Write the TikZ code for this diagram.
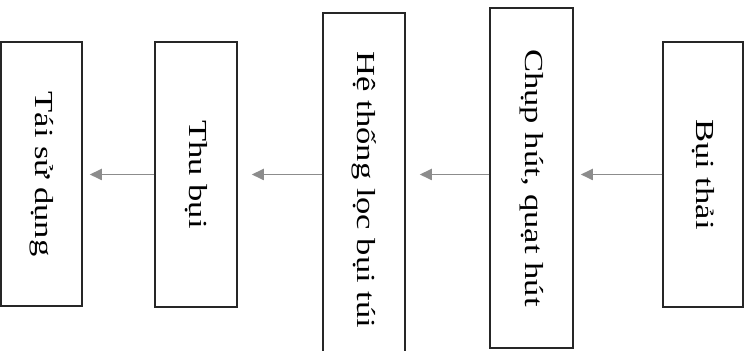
\documentclass[tikz,border=0pt]{standalone}
\usepackage{fontspec}
\setmainfont{Liberation Serif}
\usepackage{graphicx}
\usetikzlibrary{arrows.meta,positioning}

\newcommand{\vtext}[1]{\rotatebox{-90}{\scalebox{1.33}[1]{#1}}}

\begin{document}
\begin{tikzpicture}[x=0.5pt, y=-0.5pt,
  box/.style={draw=black!85, line width=0.75pt, inner sep=0pt, font=\fontsize{13}{15}\selectfont},
  flow/.style={draw=black!45, line width=0.9pt, -{Triangle[length=6pt,width=5.5pt]}, shorten >=3.5pt}]
\clip (0,0) rectangle (753,351);

\node[box, minimum width=40.5pt, minimum height=132pt] (reuse) at (41.5,174) {\vtext{Tái sử dụng}};
\node[box, minimum width=41pt, minimum height=132.5pt] (collect) at (196,174.5) {\vtext{Thu bụi}};
\node[box, minimum width=41pt, minimum height=177pt] (filter) at (364,190) {\vtext{Hệ thống lọc bụi túi}};
\node[box, minimum width=41.5pt, minimum height=170pt] (hood) at (531.5,178) {\vtext{Chụp hút, quạt hút}};
\node[box, minimum width=40pt, minimum height=132.5pt] (dust) at (703,174.5) {\vtext{Bụi thải}};

\draw[flow] (dust.west) -- (hood.east |- dust.west);
\draw[flow, shorten >=7pt] (hood.west |- dust.west) -- (filter.east |- dust.west);
\draw[flow, shorten >=7pt] (filter.west |- dust.west) -- (collect.east |- dust.west);
\draw[flow] (collect.west) -- (reuse.east |- collect.west);
\end{tikzpicture}
\end{document}
